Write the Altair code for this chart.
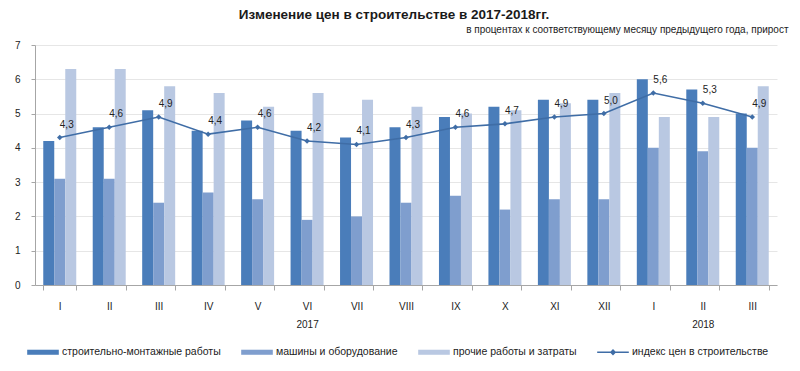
import altair as alt
import pandas as pd

# ---- data ----
months = ["I", "II", "III", "IV", "V", "VI", "VII", "VIII", "IX", "X", "XI", "XII", "I", "II", "III"]
years = ["2017"] * 12 + ["2018"] * 3
smr = [4.2, 4.6, 5.1, 4.5, 4.8, 4.5, 4.3, 4.6, 4.9, 5.2, 5.4, 5.4, 6.0, 5.7, 5.0]
machines = [3.1, 3.1, 2.4, 2.7, 2.5, 1.9, 2.0, 2.4, 2.6, 2.2, 2.5, 2.5, 4.0, 3.9, 4.0]
other = [6.3, 6.3, 5.8, 5.6, 5.2, 5.6, 5.4, 5.2, 5.0, 5.1, 5.3, 5.6, 4.9, 4.9, 5.8]
price_index = [4.3, 4.6, 4.9, 4.4, 4.6, 4.2, 4.1, 4.3, 4.6, 4.7, 4.9, 5.0, 5.6, 5.3, 4.9]
series_names = [
    "строительно-монтажные работы",
    "машины и оборудование",
    "прочие работы и затраты",
    "индекс цен в строительстве",
]
year_label_month = {"2017": "VI", "2018": "II"}
title_text = "Изменение цен в строительстве  в 2017-2018гг."
subtitle_text = "в процентах к соответствующему месяцу предыдущего года, прирост"

# ---- styling ----
colors = ["#4A7DBA", "#7F9ECE", "#B9C8E2", "#3F6DA6"]
shapes = [
    "M-1,-0.16H1V0.16H-1Z",
    "M-1,-0.16H1V0.16H-1Z",
    "M-1,-0.16H1V0.16H-1Z",
    "M-1,-0.05H1V0.05H-1Z M-0.2,0L0,-0.2L0.2,0L0,0.2Z",
]
FONT = "Liberation Sans"
TXT = "#222222"

keys = [f"{m}|{y}" for m, y in zip(months, years)]
rows = []
for name, vals in zip(series_names, [smr, machines, other, price_index]):
    for k, v in zip(keys, vals):
        rows.append({"key": k, "series": name, "value": v})
df = pd.DataFrame(rows)

cond = " : ".join(
    f"datum.value == '{m}|{y}' ? ['{m}', '{y}']" for y, m in year_label_month.items()
)
label_expr = f"!isString(datum.value) ? '' : {cond} : split(datum.value, '|')[0]"

x_enc = alt.X(
    "key:N",
    sort=keys,
    scale=alt.Scale(domain=keys, paddingInner=0.333, paddingOuter=0.167),
    axis=alt.Axis(
        title=None,
        labelExpr=label_expr,
        labelAngle=0,
        tickBand="extent",
        tickSize=5,
        labelPadding=11,
        labelLineHeight=18,
        grid=False,
    ),
)
y_enc = alt.Y(
    "value:Q",
    scale=alt.Scale(domain=[0, 7], nice=False),
    axis=alt.Axis(
        values=list(range(8)),
        title=subtitle_text,
        titleAngle=0,
        titleAlign="right",
        titleBaseline="middle",
        titleX=753,
        titleY=-16,
        titleFont=FONT,
        titleFontSize=10,
        titleFontWeight="normal",
        titleColor=TXT,
        tickSize=4,
        labelPadding=11,
        grid=True,
        gridColor="#E6E6E6",
    ),
)
color_scale = alt.Scale(domain=series_names, range=colors)
shape_scale = alt.Scale(domain=series_names, range=shapes)

legend_spec = alt.Legend(
    title=None,
    orient="none",
    legendX=-8,
    legendY=291,
    direction="horizontal",
    columns=4,
    columnPadding=20,
    labelOffset=3,
    symbolSize=1000,
    symbolOpacity=1,
    symbolStrokeWidth=0,
    labelFont=FONT,
    labelFontSize=10.5,
    labelColor=TXT,
    labelLimit=300,
)

bars = (
    alt.Chart(df)
    .transform_filter(alt.FieldOneOfPredicate(field="series", oneOf=series_names[:3]))
    .mark_bar()
    .encode(
        x=x_enc,
        y=y_enc,
        xOffset=alt.XOffset(
            "series:N",
            sort=series_names[:3],
            scale=alt.Scale(domain=series_names[:3], paddingInner=0, paddingOuter=0),
        ),
        color=alt.Color("series:N", scale=color_scale, legend=legend_spec),
    )
)

idx_base = alt.Chart(df).transform_filter(
    alt.FieldEqualPredicate(field="series", equal=series_names[3])
)
line = idx_base.mark_line(color=colors[3], strokeWidth=1.6).encode(x=x_enc, y=y_enc)
markers = idx_base.mark_point(
    shape="diamond", filled=True, size=30, color=colors[3], opacity=1
).encode(x=x_enc, y=y_enc)
labels = (
    idx_base.transform_calculate(lbl="replace(format(datum.value, '.1f'), '.', ',')")
    .mark_text(dx=7, dy=-13, fontSize=10, font=FONT, color=TXT, align="center", baseline="middle")
    .encode(x=x_enc, y=y_enc, text="lbl:N")
)

legend_layer = (
    alt.Chart(df)
    .mark_point(filled=True)
    .encode(
        x=x_enc,
        y=y_enc,
        color=alt.Color("series:N", scale=color_scale, legend=legend_spec),
        shape=alt.Shape("series:N", scale=shape_scale, legend=legend_spec),
        opacity=alt.value(0),
    )
)

chart = (
    alt.layer(bars, line, markers, labels, legend_layer)
    .properties(
        width=742,
        height=240,
        padding={"left": 27, "top": 37, "right": 15, "bottom": 82},
        autosize=alt.AutoSizeParams(type="none"),
        title=alt.Title(
            text=title_text,
            font=FONT,
            fontSize=13.5,
            fontWeight="bold",
            color="#1A1A1A",
            anchor="middle",
            frame="group",
            dx=-12,
            offset=3,
        ),
    )
    .configure_view(stroke=None)
    .configure_axis(
        labelFont=FONT,
        labelFontSize=10,
        labelColor=TXT,
        domainColor="#A6A6A6",
        tickColor="#A6A6A6",
    )
)

chart.save("out.html", embed_options={"renderer": "svg", "actions": False})
